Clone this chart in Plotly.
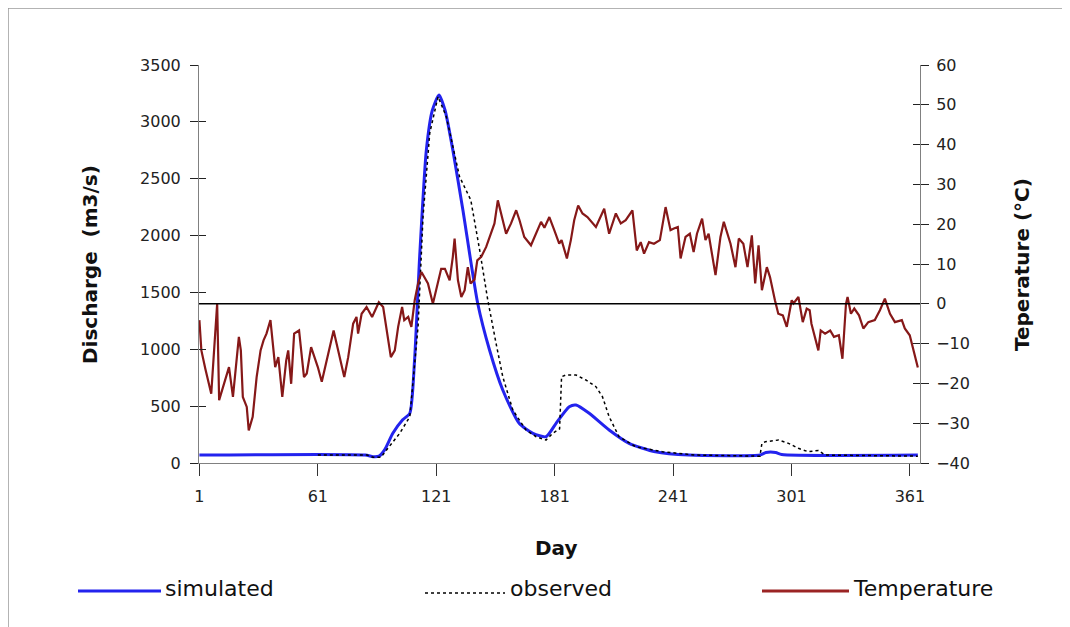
import plotly.graph_objects as go

# ---------------- data ----------------
temp_days = [1, 2, 4, 7, 10, 11, 16, 18, 21, 22, 23, 25, 26, 28, 30, 32, 33.5, 35, 37, 38,
             39.4, 41, 43, 45, 46, 47.5, 49, 51.5, 52.5, 54, 55.4, 57.6, 59.3, 61, 63, 65.5,
             69, 70.5, 74.4, 76.4, 78.9, 80.6, 81.4, 83.2, 85.7, 88.5, 91.9, 94.1, 95.8, 98,
             100, 101.7, 103.7, 104.8, 106.8, 108.4, 110.1, 111.8, 113.5, 116.8, 119.3, 121,
             123.5, 125.4, 127.8, 129.4, 130.3, 132, 133.7, 135.4, 137, 138.4, 140.4, 141.8,
             143.8, 146.3, 148.8, 150.5, 152.2, 153.9, 156.4, 158.9, 161.5, 163.2, 165.6, 169,
             171.6, 174.1, 175.8, 178.3, 180.8, 183.3, 184.5, 187.2, 189.2, 190.9, 192.9, 195.1,
             197.6, 201.9, 206.1, 208.6, 212, 214.5, 217, 220.4, 222.6, 224.6, 226.3, 228.8,
             231.3, 234.3, 237.2, 239.7, 241.4, 243.4, 244.8, 247.3, 249.5, 251.4, 253.1, 255.7,
             257.4, 259, 262.5, 265, 266.7, 268.4, 270.1, 272.6, 274.3, 276.6, 278.7, 280.9,
             282.6, 284.3, 286, 288.5, 290.1, 292.6, 294.3, 296.6, 298.6, 301.1, 302, 304.5,
             306.7, 308.7, 310.2, 311.1, 314.6, 315.8, 318, 320.6, 322.5, 325, 326.8, 328.6,
             329.4, 331.1, 332.8, 335.2, 337.4, 339.9, 343.2, 345.8, 348.3, 350.9, 353.4, 356.9,
             358.4, 360.9, 362.6, 364.3, 365]
temp_values = [-4.1, -11.7, -16.3, -22.6, 0.0, -24.2, -15.9, -23.4, -8.3, -11.7, -23.4, -25.9,
               -31.8, -28.4, -18.4, -11.7, -9.2, -7.5, -4.1, -9.2, -15.9, -13.4, -23.4, -14.2,
               -11.7, -20.1, -7.5, -6.7, -11.7, -18.4, -17.5, -10.9, -13.4, -15.9, -19.6, -14.2,
               -6.7, -10.0, -18.4, -13.4, -5.0, -3.3, -7.5, -2.5, -0.8, -3.3, 0.4, -0.8, -5.8,
               -13.4, -11.7, -5.8, -0.8, -4.1, -3.3, -5.8, 0.9, 5.1, 8.0, 5.1, 0.0, 3.4, 8.8,
               8.8, 5.9, 11.8, 16.4, 5.9, 1.7, 3.4, 9.2, 5.1, 6.1, 10.9, 11.8, 14.3, 17.6, 20.2,
               26.0, 22.7, 17.6, 20.2, 23.5, 21.0, 16.8, 14.7, 17.6, 20.6, 19.1, 21.8, 18.5,
               15.1, 16.0, 11.4, 16.0, 21.0, 24.7, 22.7, 21.8, 19.3, 23.9, 17.6, 22.7, 20.2,
               21.0, 23.5, 13.4, 15.5, 12.6, 15.5, 15.1, 16.0, 24.3, 18.5, 18.9, 19.3, 11.4,
               16.8, 17.6, 13.0, 17.6, 21.4, 16.0, 17.6, 7.2, 16.8, 20.6, 17.6, 15.1, 9.2, 16.4,
               15.1, 9.2, 17.2, 5.1, 14.7, 3.4, 9.2, 6.7, 0.9, -2.5, -2.9, -5.8, 0.9, 0.1, 1.7,
               -4.6, -1.2, -1.6, -5.0, -11.7, -6.7, -7.5, -6.7, -8.3, -7.9, -13.8, 0.0, 1.7,
               -2.5, -1.2, -2.9, -6.2, -4.6, -4.1, -1.6, 1.3, -2.5, -4.6, -4.1, -6.2, -7.9,
               -11.3, -15.0, -16.0]

sim_days = [1, 85, 89, 92, 95, 99, 104, 107.6, 110, 112.6, 116, 119, 122.4, 125.5, 129.4,
            134.5, 142, 148, 154.7, 163, 170, 176.6, 181.7, 188.4, 191.8, 198.5, 208.6, 218.7,
            232, 249, 285, 288, 293, 296, 365]
sim_values = [70, 70, 55, 60, 120, 261, 380, 437, 900, 1815, 2753, 3100, 3237, 3100, 2753,
              2225, 1405, 994, 642, 349, 261, 231, 349, 495, 510, 437, 290, 173, 99, 70, 70,
              92, 92, 75, 70]

obs_days = [61, 86, 89, 93, 95.8, 102.5, 107.6, 109.2, 111.8, 114.3, 117.7, 121.9, 126.1,
            132.8, 138.5, 143, 147.1, 151.3, 154.7, 159.8, 166.5, 171.6, 176.6, 180, 183.5,
            184.5, 186.7, 191.8, 196.8, 201.9, 205.2, 208.6, 213.6, 222.1, 235.6, 252, 285,
            286, 287.7, 294.4, 299.5, 304.5, 309.5, 314.6, 318, 365]
obs_values = [70, 70, 50, 50, 114, 261, 407, 701, 1200, 2166, 2900, 3222, 3046, 2518, 2313,
              1873, 1434, 1053, 759, 466, 290, 231, 202, 261, 300, 759, 774, 774, 730, 671,
              583, 407, 231, 143, 99, 70, 60, 173, 187, 202, 173, 129, 99, 110, 70, 60]

x_ticks = [1, 61, 121, 181, 241, 301, 361]
q_ticks = [0, 500, 1000, 1500, 2000, 2500, 3000, 3500]
t_ticks = [-40, -30, -20, -10, 0, 10, 20, 30, 40, 50, 60]

# ---------------- figure ----------------
W, H = 1070, 627
L, R, T, B = 191, 158, 57, 172
PW, PH = W - L - R, H - T - B
OFF = 8  # page margin of the browser


def px(sx):
    return (sx - OFF - L) / PW


def py(sy):
    return (H - B - (sy - OFF)) / PH


BLUE = "#2323EE"
RED = "#861818"
FONT = "DejaVu Sans"

fig = go.Figure()
fig.add_trace(go.Scatter(x=temp_days, y=temp_values, mode="lines", yaxis="y2",
                         line=dict(color=RED, width=2.2), name="Temperature"))
fig.add_trace(go.Scatter(x=sim_days, y=sim_values, mode="lines", yaxis="y",
                         line=dict(color=BLUE, width=3, shape="spline", smoothing=0.6),
                         name="simulated"))
fig.add_trace(go.Scatter(x=obs_days, y=obs_values, mode="lines", yaxis="y",
                         line=dict(color="black", width=1.5, dash="dot"), name="observed"))
# empty traces so the overlay tick axes are drawn
fig.add_trace(go.Scatter(x=[], y=[], yaxis="y3", showlegend=False))
fig.add_trace(go.Scatter(x=[], y=[], yaxis="y4", showlegend=False))

tickfont = dict(family=FONT, size=16, color="#222")
axcol = "#808080"

fig.update_layout(
    width=W, height=H,
    margin=dict(l=L, r=R, t=T, b=B, pad=0),
    paper_bgcolor="white", plot_bgcolor="white",
    showlegend=False,
    xaxis=dict(range=[0.8, 366.1], tickvals=x_ticks, ticks="outside", ticklen=12,
               tickcolor="#333", showline=True, linecolor=axcol, linewidth=1,
               showgrid=False, zeroline=False, tickfont=tickfont, ticklabelstandoff=7),
    yaxis=dict(range=[0, 3500], tickvals=q_ticks, ticks="outside", ticklen=8,
               tickcolor="#222", showline=True, linecolor=axcol, linewidth=1,
               showgrid=False, zeroline=False, tickfont=tickfont, ticklabelstandoff=6),
    yaxis2=dict(range=[-40, 60], tickvals=t_ticks, overlaying="y", side="right",
                ticks="outside", ticklen=8, tickcolor="#222", showline=True,
                linecolor=axcol, linewidth=1, showgrid=False, zeroline=False,
                tickfont=tickfont, ticklabelstandoff=4),
    yaxis3=dict(range=[0, 3500], tickvals=q_ticks, overlaying="y", side="left",
                ticks="inside", ticklen=7, tickcolor="#222", showticklabels=False,
                showline=False, showgrid=False, zeroline=False),
    yaxis4=dict(range=[-40, 60], tickvals=t_ticks, overlaying="y", side="right",
                ticks="inside", ticklen=7, tickcolor="#222", showticklabels=False,
                showline=False, showgrid=False, zeroline=False),
)

shapes = [
    # temperature zero line
    dict(type="line", xref="paper", yref="y2", x0=0, x1=1, y0=0, y1=0,
         line=dict(color="black", width=1.5)),
    # outer frame
    dict(type="rect", xref="paper", yref="paper", x0=px(8), x1=px(1063),
         y0=py(640), y1=py(8), line=dict(color="#9a9a9a", width=1.5)),
    # legend samples
    dict(type="line", xref="paper", yref="paper", x0=px(78), x1=px(161), y0=py(591), y1=py(591),
         line=dict(color=BLUE, width=3)),
    dict(type="line", xref="paper", yref="paper", x0=px(425), x1=px(505), y0=py(593), y1=py(593),
         line=dict(color="black", width=1.5, dash="dot")),
    dict(type="line", xref="paper", yref="paper", x0=px(762), x1=px(849), y0=py(591), y1=py(591),
         line=dict(color="#9B2424", width=3)),
]
fig.update_layout(shapes=shapes)

annotations = [
    dict(text="<b>Discharge  (m3/s)</b>", x=px(90), y=py(265), textangle=-90,
         font=dict(family=FONT, size=20, color="#111")),
    dict(text="<b>Teperature (°C)</b>", x=px(1022), y=py(265), textangle=-90,
         font=dict(family=FONT, size=20, color="#111")),
    dict(text="<b>Day</b>", x=px(556), y=py(548),
         font=dict(family=FONT, size=20, color="#111")),
    dict(text="simulated", x=px(163), y=py(588), xanchor="left",
         font=dict(family=FONT, size=22, color="#111")),
    dict(text="observed", x=px(508), y=py(588), xanchor="left",
         font=dict(family=FONT, size=22, color="#111")),
    dict(text="Temperature", x=px(851), y=py(588), xanchor="left",
         font=dict(family=FONT, size=22, color="#111")),
]
for a in annotations:
    a.update(xref="paper", yref="paper", showarrow=False)
    a.setdefault("xanchor", "center")
    a.setdefault("yanchor", "middle")
fig.update_layout(annotations=annotations)

fig.write_html("out.html")
